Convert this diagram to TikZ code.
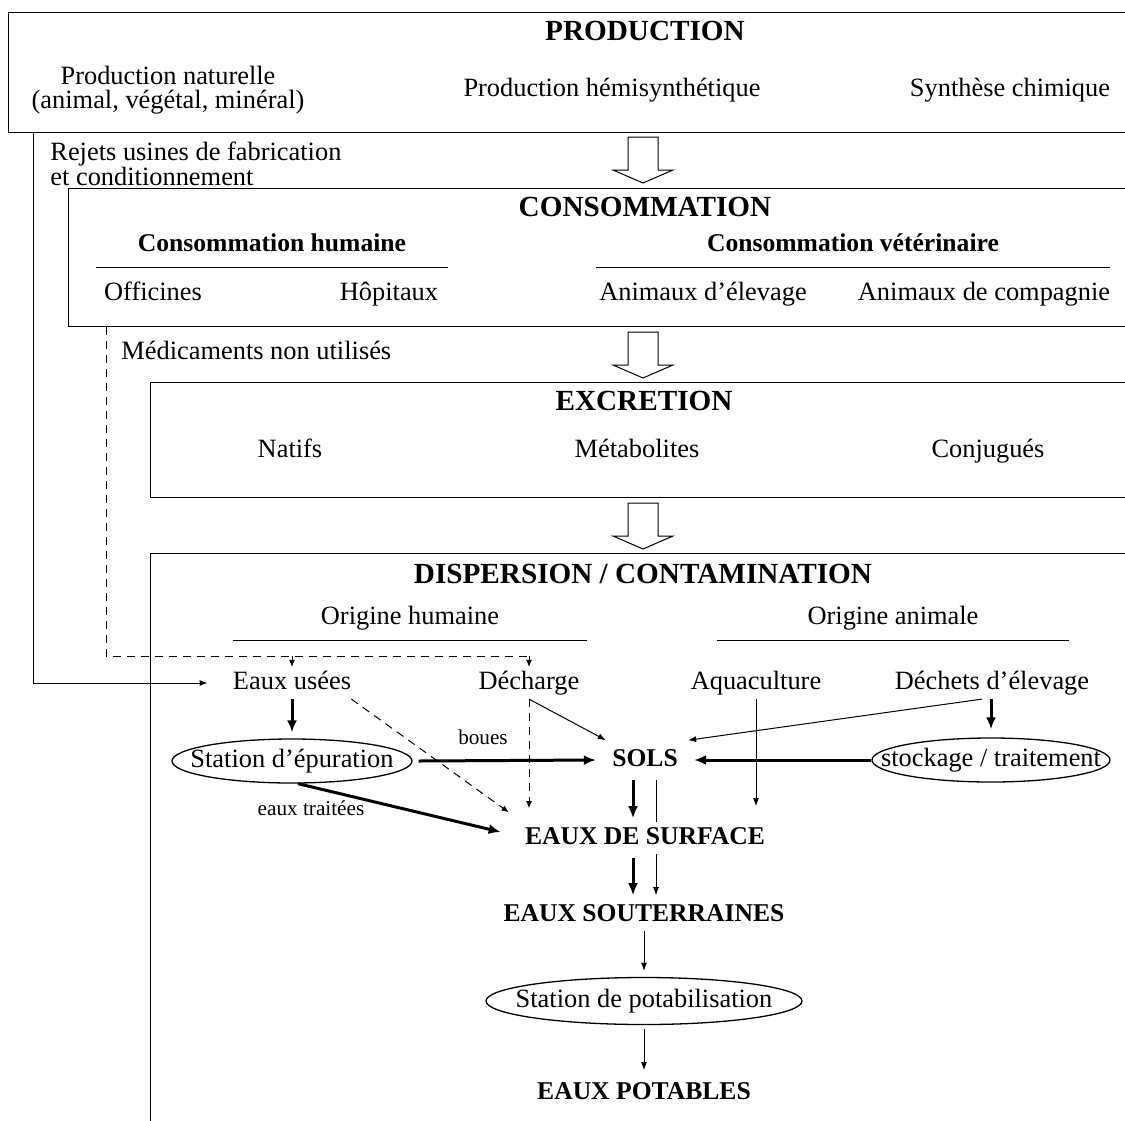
\documentclass[tikz,border=0pt]{standalone}
\usepackage{fontspec}
\setmainfont{Liberation Serif}
\usetikzlibrary{arrows.meta,shapes.geometric}
\newcommand{\hollowArrow}[2]{%
  \draw[hollow] ({#1-15},{#2}) -- ({#1+15},{#2}) -- ({#1+15},{#2+33}) -- ({#1+30},{#2+33})
    -- ({#1},{#2+46}) -- ({#1-30},{#2+33}) -- ({#1-15},{#2+33}) -- cycle;}
\begin{document}
\begin{tikzpicture}[x=0.5pt,y=-0.5pt,
  txt/.style={inner sep=2pt, font=\fontsize{13.2}{15.5}\selectfont, text height=9pt, text depth=2.7pt},
  twoline/.style={inner sep=1pt, font=\fontsize{13.2}{12.2}\selectfont},
  head/.style={inner sep=2pt, font=\fontsize{14.6}{17}\selectfont\bfseries, text height=10pt, text depth=3pt},
  sub/.style={inner sep=2pt, font=\fontsize{12.8}{15}\selectfont\bfseries, text height=8.8pt, text depth=2.6pt},
  key/.style={inner sep=2pt, font=\fontsize{12.8}{15}\selectfont\bfseries, text height=8.8pt, text depth=2.6pt},
  small/.style={inner sep=2pt, font=\fontsize{10.6}{12.5}\selectfont},
  box/.style={draw, line width=0.65pt, inner sep=0pt, anchor=north west},
  ell/.style={draw, ellipse, line width=0.65pt, inner xsep=-30pt, inner ysep=-10pt, font=\fontsize{13.2}{15.5}\selectfont},
  thin/.style={line width=0.5pt, -{Latex[length=4pt,width=3pt]}},
  thick/.style={line width=1.5pt, -{Latex[length=6pt,width=5pt]}},
  dsh/.style={line width=0.5pt, dash pattern=on 4pt off 3pt},
  dsharrow/.style={dsh, -{Latex[length=3.5pt,width=3pt]}},
  hollow/.style={draw, line width=0.5pt, fill=white},
  rule/.style={line width=0.5pt}
]
\useasboundingbox (0,0) rectangle (1125,1120);

% ---------- boxes ----------
\node[box, minimum width=566pt, minimum height=60pt] (prodbox) at (8,12) {};
\node[box, minimum width=536pt, minimum height=69pt] (consbox) at (68,188) {};
\node[box, minimum width=495pt, minimum height=57.5pt] (excbox) at (150,382) {};
\node[box, minimum width=495pt, minimum height=295pt] (dispbox) at (150,553) {};

\hollowArrow{643}{137}
\hollowArrow{643}{332}
\hollowArrow{643}{503}

% ---------- PRODUCTION ----------
\node[head] (tprod) at (645,33) {PRODUCTION};
\node[twoline, align=center] (pnat) at (168,90) {Production naturelle\\(animal, végétal, minéral)};
\node[txt] (phemi) at (612,90) {Production hémisynthétique};
\node[txt] (psyn) at (1010,90) {Synthèse chimique};
\node[twoline, align=left, anchor=west] (rej) at (48,164) {Rejets usines de fabrication\\et conditionnement};

% ---------- CONSOMMATION ----------
\node[head] (tcons) at (645,209) {CONSOMMATION};
\node[sub] (chum) at (272,245) {Consommation humaine};
\node[sub] (cvet) at (853,245) {Consommation vétérinaire};
\draw[rule] (96,267) -- (448,267);
\draw[rule] (596,267) -- (1110,267);
\node[txt] (offi) at (153,294) {Officines};
\node[txt] (hopi) at (389,294) {Hôpitaux};
\node[txt] (anel) at (703,294) {Animaux d’élevage};
\node[txt] (anco) at (984,294) {Animaux de compagnie};
\node[txt, anchor=west] (mnu) at (117,353) {Médicaments non utilisés};

% ---------- EXCRETION ----------
\node[head] (texc) at (644,403) {EXCRETION};
\node[txt] (nat) at (290,451) {Natifs};
\node[txt] (meta) at (637,451) {Métabolites};
\node[txt] (conj) at (988,451) {Conjugués};

% ---------- DISPERSION ----------
\node[head] (tdisp) at (643,576) {DISPERSION / CONTAMINATION};
\node[txt] (ohum) at (410,618) {Origine humaine};
\node[txt] (oani) at (893,618) {Origine animale};
\draw[rule] (233,640) -- (587,640);
\draw[rule] (717,640) -- (1069,640);

\node[txt] (eu) at (292,683) {Eaux usées};
\node[txt] (dec) at (529,683) {Décharge};
\node[txt] (aq) at (756,683) {Aquaculture};
\node[txt] (dech) at (992,683) {Déchets d’élevage};

\node[ell, minimum width=120pt, minimum height=22pt] (ste) at (292,761) {Station d’épuration};
\node[key] (sols) at (645,760) {SOLS};
\node[ell, minimum width=119pt, minimum height=22pt] (stk) at (991,760) {stockage / traitement};
\node[small] (boues) at (483,737) {boues};
\node[small] (trait) at (311,808) {eaux traitées};

\node[key] (eds) at (645,838) {EAUX DE SURFACE};
\node[key] (eso) at (644,915) {EAUX SOUTERRAINES};
\node[ell, minimum width=158pt, minimum height=23.5pt] (pot) at (644,1001) {Station de potabilisation};
\node[key] (potab) at (644,1093) {EAUX POTABLES};

% ---------- coordinates ----------
\coordinate (lx) at (33,0);
\coordinate (dx) at (106,0);
\coordinate (dy) at (0,656);

% ---------- connectors ----------
\draw[thin] (prodbox.south -| lx) |- ([xshift=-10.5pt]eu.west);
\draw[dsh] (consbox.south -| dx) |- (dec.north |- dy);
\draw[dsharrow] (eu.north |- dy) -- (eu.north);
\draw[dsharrow] (dec.north |- dy) -- (dec.north);

\draw[thick, shorten >=3pt] (eu.south) -- (ste.north);
\draw[thick] ([xshift=3pt]ste.east) -- ([xshift=-6pt]sols.west);
\draw[thick] ([xshift=3pt]ste.south) -- ([xshift=-10pt,yshift=3pt]eds.west);
\draw[dsharrow] ([xshift=-2pt]eu.south east) -- ([xshift=-6pt,yshift=5pt]eds.north west);
\draw[dsharrow, shorten >=7pt] (dec.south) -- (dec.south |- eds.north);
\draw[thin] (dec.south) -- ([xshift=-1pt,yshift=2pt]sols.north west);
\draw[thin, shorten >=8pt] (aq.south) -- (aq.south |- eds.north);
\draw[thin] ([xshift=-5pt]dech.south) -- ([xshift=3pt,yshift=2pt]sols.north east);
\draw[thick, shorten >=4pt] (stk.north |- dech.south) -- (stk.north);
\draw[thick] (stk.west) -- ([xshift=6pt]sols.east);

\draw[thick, shorten <=2pt, shorten >=2pt] ([xshift=-6pt]sols.south) -- ([xshift=-6pt]sols.south |- eds.north);
\draw[line width=0.5pt, shorten <=2pt] ([xshift=5.5pt]sols.south) -- ([xshift=5.5pt]sols.south |- eds.north);
\draw[thin, shorten >=2pt] ([xshift=5.5pt]sols.south |- eds.south) -- ([xshift=5.5pt]sols.south |- eso.north);
\draw[thick, shorten <=2pt, shorten >=2pt] ([xshift=-6pt]sols.south |- eds.south) -- ([xshift=-6pt]sols.south |- eso.north);
\draw[thin, shorten >=3pt] (eso.south) -- (pot.north);
\draw[thin, shorten <=2pt, shorten >=3.5pt] (pot.south) -- (potab.north);
\end{tikzpicture}
\end{document}
